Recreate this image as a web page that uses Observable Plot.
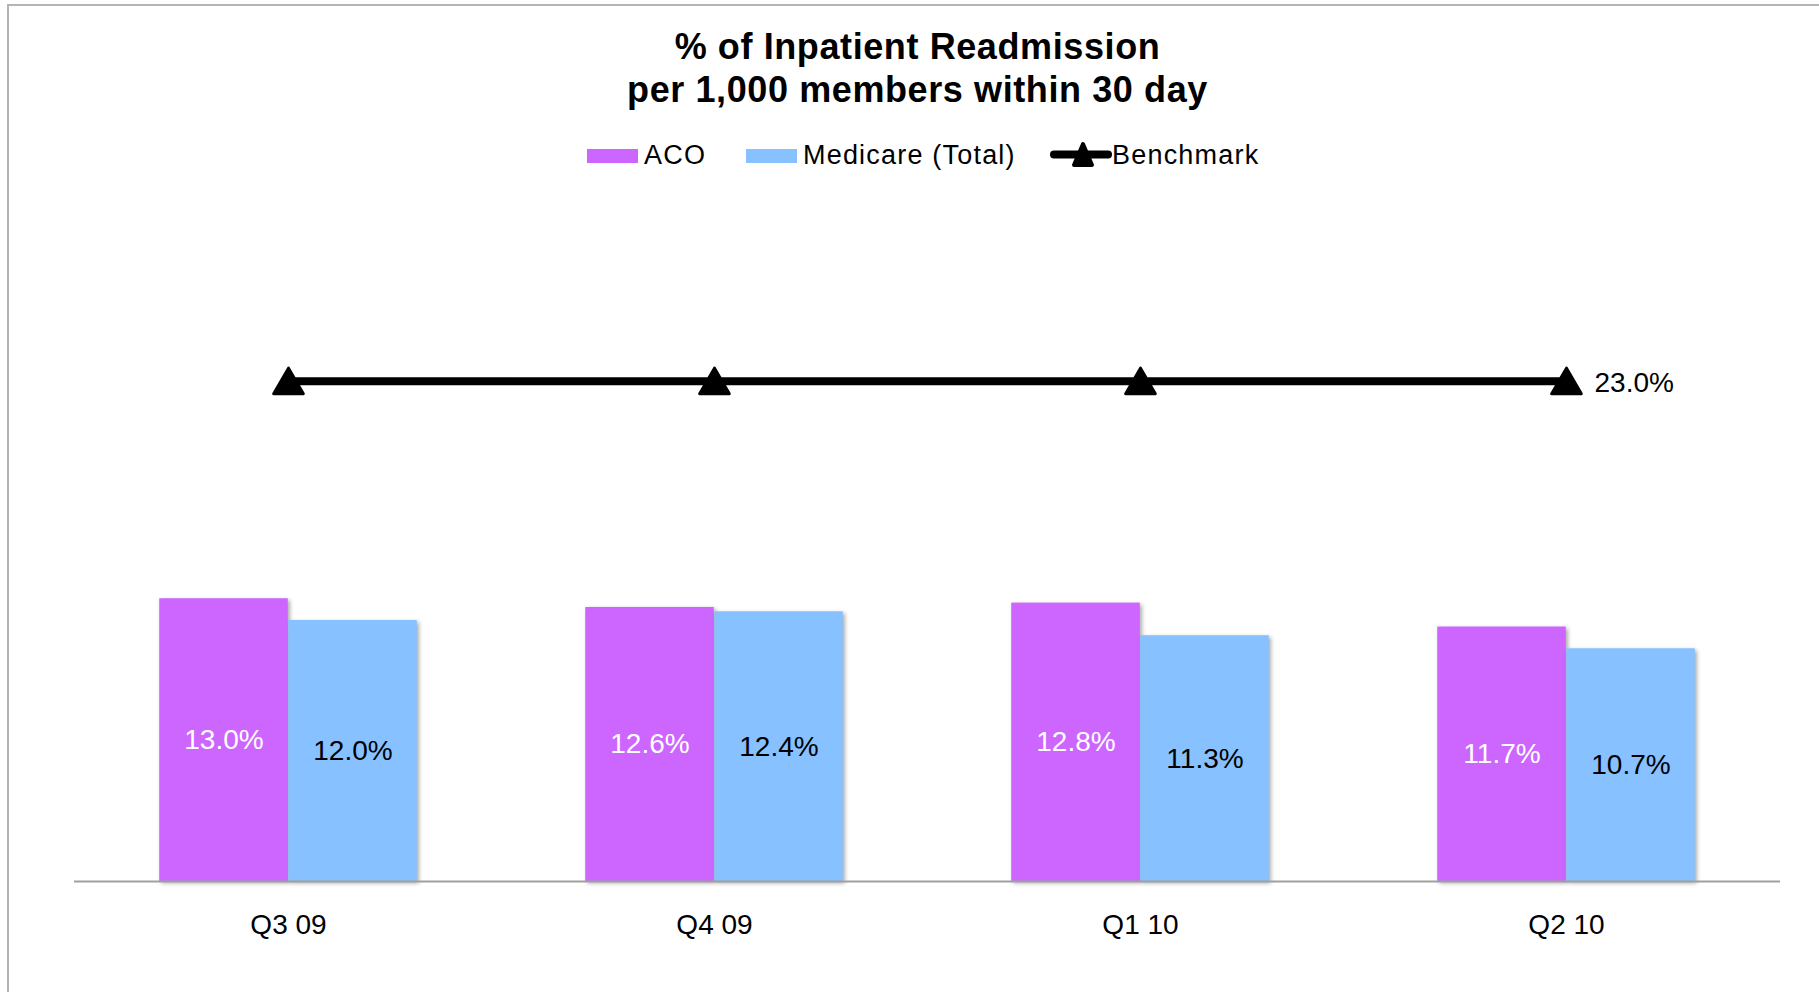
<!DOCTYPE html>
<html>
<head>
<meta charset="utf-8">
<script src="https://cdn.jsdelivr.net/npm/d3@7"></script>
<script src="https://cdn.jsdelivr.net/npm/@observablehq/plot@0.6"></script>
<style>
  html, body { margin: 0; padding: 0; background: #fff; }
  #frame { position: relative; width: 1819px; height: 992px; overflow: hidden; background: #fff;
           font-family: "Liberation Sans", Arial, sans-serif; color: #000; }
  #border { position: absolute; left: 7px; top: 4px; right: -10px; bottom: -10px;
            border-left: 2px solid #b4b4b4; border-top: 2px solid #b4b4b4; }
  .title { position: absolute; left: 0; width: 1835px; text-align: center; font-weight: bold;
           font-size: 36px; line-height: 1; letter-spacing: 0.6px; white-space: nowrap; }
  .leg { position: absolute; font-size: 27px; line-height: 1; letter-spacing: 1.2px; white-space: nowrap; }
  .sw { position: absolute; width: 51px; height: 14px; }
  #chart { position: absolute; left: 0; top: 190px; }
</style>
</head>
<body>
<div id="frame">
  <div id="border"></div>
  <div class="title" style="top:29px">% of Inpatient Readmission</div>
  <div class="title" style="top:72px">per 1,000 members within 30 day</div>
  <div id="legend"></div>
  <div id="chart"></div>
</div>
<script>
const quarters = ["Q3 09", "Q4 09", "Q1 10", "Q2 10"];
const acoValues = [13.0, 12.6, 12.8, 11.7];
const medicareValues = [12.0, 12.4, 11.3, 10.7];
const benchmarkValues = [23.0, 23.0, 23.0, 23.0];
const seriesNames = ["ACO", "Medicare (Total)", "Benchmark"];
const seriesColors = ["#CC66FF", "#87C1FF", "#000000"];

const acoData = quarters.map((q, i) => ({quarter: q, value: acoValues[i]}));
const medData = quarters.map((q, i) => ({quarter: q, value: medicareValues[i]}));
const benchData = quarters.map((q, i) => ({quarter: q, value: benchmarkValues[i]}));
const fmt = d => d.value.toFixed(1) + "%";

// Legend (HTML)
const legend = document.getElementById("legend");
legend.innerHTML = `
  <div class="sw" style="left:587px;top:149px;background:${seriesColors[0]}"></div>
  <div class="leg" style="left:644px;top:142px">${seriesNames[0]}</div>
  <div class="sw" style="left:746px;top:149px;background:${seriesColors[1]}"></div>
  <div class="leg" style="left:803px;top:142px">${seriesNames[1]}</div>
  <svg style="position:absolute;left:1046px;top:140px" width="68" height="32">
    <line x1="8" y1="14.5" x2="62" y2="14.5" stroke="${seriesColors[2]}" stroke-width="8" stroke-linecap="round"/>
    <path d="M37,4 L46,25 L28,25 Z" fill="${seriesColors[2]}" stroke="${seriesColors[2]}" stroke-width="4" stroke-linejoin="round"/>
  </svg>
  <div class="leg" style="left:1112px;top:142px">${seriesNames[2]}</div>
`;

const bandInset = 148.75;
const half = 64.5;

const plot = Plot.plot({
  width: 1819,
  height: 802,
  marginLeft: 74,
  marginRight: 39,
  marginTop: 38.5,
  marginBottom: 111,
  style: {fontFamily: "'Liberation Sans', Arial, sans-serif", fontSize: "28px", background: "transparent", color: "#000"},
  x: {type: "band", domain: quarters, padding: 0, label: null},
  y: {domain: [0, 30], axis: null},
  marks: [
    Plot.barY(acoData, {x: "quarter", y: "value", fill: seriesColors[0], insetLeft: bandInset, insetRight: bandInset, dx: -half}),
    Plot.barY(medData, {x: "quarter", y: "value", fill: seriesColors[1], insetLeft: bandInset, insetRight: bandInset, dx: half}),
    Plot.ruleY([0], {stroke: "#a0a0a0", strokeWidth: 2}),
    Plot.text(acoData, {x: "quarter", y: d => d.value / 2, text: fmt, fill: "white", dx: -half, fontSize: 28}),
    Plot.text(medData, {x: "quarter", y: d => d.value / 2, text: fmt, fill: "black", dx: half, fontSize: 28}),
    Plot.line(benchData, {x: "quarter", y: "value", stroke: seriesColors[2], strokeWidth: 8}),
    Plot.dot(benchData, {x: "quarter", y: "value", symbol: "triangle", r: 11, fill: seriesColors[2], stroke: seriesColors[2], strokeWidth: 3, strokeLinejoin: "round", dy: 4}),
    Plot.text(benchData.slice(-1), {x: "quarter", y: "value", text: fmt, textAnchor: "start", dx: 28, dy: 2, fontSize: 28, fill: "black"}),
    Plot.axisX({tickSize: 0, tickPadding: 33, fontSize: 28, fill: "black", label: null})
  ]
});
plot.querySelectorAll('g[aria-label="bar"]').forEach(g => {
  g.style.filter = "drop-shadow(2px 2px 2px rgba(0,0,0,0.35))";
});
document.getElementById("chart").appendChild(plot);
</script>
</body>
</html>
